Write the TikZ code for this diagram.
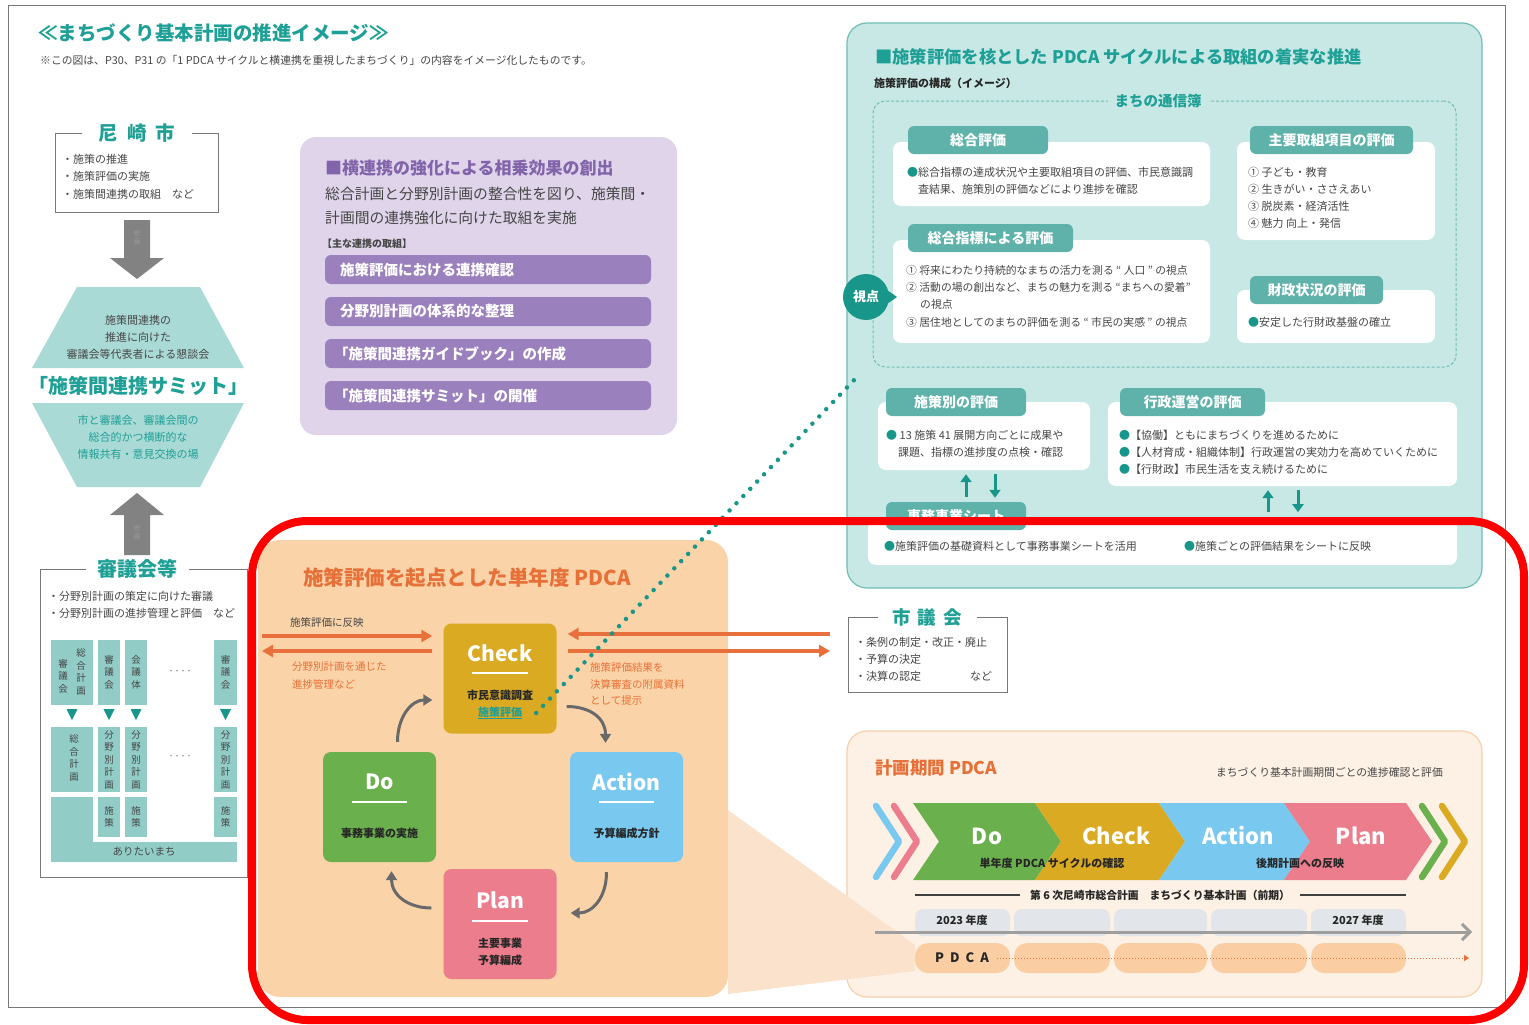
\documentclass[tikz,border=0pt]{standalone}
\usepackage{fontspec}
\setmainfont{Noto Sans CJK JP}
\usetikzlibrary{arrows.meta}
\definecolor{tealT}{RGB}{30,160,150}
\definecolor{tealTab}{RGB}{95,178,170}
\definecolor{tealBg}{RGB}{200,232,229}
\definecolor{tealLine}{RGB}{110,190,182}
\definecolor{tealDark}{RGB}{25,150,138}
\definecolor{hexC}{RGB}{170,218,214}
\definecolor{gridC}{RGB}{145,204,199}
\definecolor{txtG}{RGB}{70,70,70}
\definecolor{arrG}{RGB}{130,130,130}
\definecolor{purBg}{RGB}{224,212,234}
\definecolor{purBar}{RGB}{155,128,190}
\definecolor{purT}{RGB}{130,100,170}
\definecolor{orBg}{RGB}{251,211,168}
\definecolor{orT}{RGB}{230,112,55}
\definecolor{orL}{RGB}{232,112,60}
\definecolor{chkC}{RGB}{218,170,35}
\definecolor{doC}{RGB}{106,176,76}
\definecolor{actC}{RGB}{120,200,240}
\definecolor{plnC}{RGB}{235,125,140}
\definecolor{rbBg}{RGB}{253,240,228}
\definecolor{rbLine}{RGB}{246,208,172}
\definecolor{fanC}{RGB}{250,226,204}
\definecolor{yrC}{RGB}{226,229,233}
\definecolor{pillC}{RGB}{250,206,162}
\definecolor{cycG}{RGB}{105,105,105}
\definecolor{brkC}{RGB}{120,120,120}
\begin{document}
\begin{tikzpicture}[x=1pt,y=-1pt,
  f/.style={font=\fontsize{#1}{#1}\selectfont},
  fb/.style={font=\fontsize{#1}{#1}\selectfont\bfseries},
  lt/.style={anchor=west,inner sep=0,text=txtG},
  ct/.style={inner sep=0,text=txtG},
  vt/.style={align=center,inner sep=0,font=\fontsize{9.5}{12.5}\selectfont,text=txtG},
  brk/.style={draw=brkC,line width=1pt},
  tab/.style={fill=tealTab,rounded corners=6pt,text=white,inner sep=0,fb=14},
  wbox/.style={fill=white,rounded corners=8pt,inner sep=0},
  pd/.style={rounded corners=8pt,inner sep=0,minimum width=113pt,minimum height=110pt},
  orA/.style={draw=orL,line width=3.5pt,-{Triangle[length=11pt,width=12pt]}},
  cyc/.style={draw=cycG,line width=3pt,-{Triangle[length=9pt,width=11pt]}},
  tA/.style={draw=tealDark,line width=3pt,-{Triangle[length=8pt,width=11pt]}},
  chv/.style={line width=6.5pt,line cap=round,line join=round},
  bar/.style={fill=purBar,rounded corners=6pt,inner sep=0,minimum width=326pt,minimum height=29pt},
  bartxt/.style={anchor=west,inner sep=0,text=white,fb=14.5},
  yr/.style={fill=yrC,rounded corners=8pt},
  pill/.style={fill=pillC,rounded corners=13pt}
]
\useasboundingbox (0,0) rectangle (1529,1025);
\fill[white] (0,0) rectangle (1529,1025);
\draw[brkC,line width=1pt] (8,6) rectangle (1505,1007);

% ---------- title ----------
\node[lt,fb=19.5,text=tealT] (ttl) at (38,33) {≪まちづくり基本計画の推進イメージ≫};
\node[lt,f=10.8] (note) at (40,60) {※この図は、P30、P31 の「1 PDCA サイクルと横連携を重視したまちづくり」の内容をイメージ化したものです。};

% ---------- 尼崎市 ----------
\draw[brk] (82,133) -- (55,133) -- (55,212) -- (218,212) -- (218,133) -- (192,133);
\node[ct,fb=19.5,text=tealT] (ama) at (137,133) {尼\hspace{9pt}崎\hspace{9pt}市};
\node[lt,f=11] (ama1) at (62,159) {・施策の推進};
\node[lt,f=11] (ama2) at (62,176) {・施策評価の実施};
\node[lt,f=11] (ama3) at (62,194) {・施策間連携の取組　など};

\fill[arrG] (124,220) -- (150,220) -- (150,258) -- (164,258) -- (137,279) -- (110,258) -- (124,258) -- cycle;
\node[ct,align=center,font=\fontsize{7}{8.5}\selectfont,text=black!40] (sk1) at (137,238) {参\\画};

% ---------- summit hexagon ----------
\fill[hexC] (77,287) -- (200,287) -- (244,368) -- (32,368) -- cycle;
\fill[hexC] (32,403) -- (244,403) -- (200,487) -- (77,487) -- cycle;
\node[ct,f=11] (hx1) at (138,320) {施策間連携の};
\node[ct,f=11] (hx2) at (138,337) {推進に向けた};
\node[ct,f=11] (hx3) at (138,354) {審議会等代表者による懇談会};
\node[ct,fb=20,text=tealT] (summit) at (138,386) {「施策間連携サミット」};
\node[ct,f=11,text=tealT] (hx4) at (138,420) {市と審議会、審議会間の};
\node[ct,f=11,text=tealT] (hx5) at (138,437) {総合的かつ横断的な};
\node[ct,f=11,text=tealT] (hx6) at (138,454) {情報共有・意見交換の場};

\fill[arrG] (124,555) -- (150,555) -- (150,515) -- (164,515) -- (137,493) -- (110,515) -- (124,515) -- cycle;
\node[ct,align=center,font=\fontsize{7}{8.5}\selectfont,text=black!40] (sk2) at (137,533) {参\\画};

% ---------- 審議会等 ----------
\draw[brk] (86,569) -- (40,569) -- (40,877) -- (247,877) -- (247,569) -- (189,569);
\node[ct,fb=20,text=tealT] (shin) at (137,569) {審議会等};
\node[lt,f=11] (shin1) at (48,596) {・分野別計画の策定に向けた審議};
\node[lt,f=11] (shin2) at (48,613) {・分野別計画の進捗管理と評価　など};

\fill[gridC] (51,640) rectangle (93,705);
\fill[gridC] (98,640) rectangle (120,705);
\fill[gridC] (125,640) rectangle (147,705);
\fill[gridC] (214,640) rectangle (237,705);
\fill[gridC] (51,727) rectangle (93,792);
\fill[gridC] (98,727) rectangle (120,792);
\fill[gridC] (125,727) rectangle (147,792);
\fill[gridC] (214,727) rectangle (237,792);
\fill[gridC] (51,797) rectangle (93,862);
\fill[gridC] (98,797) rectangle (120,837);
\fill[gridC] (125,797) rectangle (147,837);
\fill[gridC] (214,797) rectangle (237,837);
\fill[gridC] (51,842) rectangle (237,862);
\foreach \cx in {72,109,136,225.5} {\fill[tealDark] (\cx-5.5,709) -- (\cx+5.5,709) -- (\cx,720) -- cycle;}
\node[vt] (g1a) at (81,672) {総\\合\\計\\画};
\node[vt] (g1b) at (63,676) {審\\議\\会};
\node[vt] (g2a) at (109,672) {審\\議\\会};
\node[vt] (g3a) at (136,672) {会\\議\\体};
\node[vt] (g4a) at (225.5,672) {審\\議\\会};
\node[ct,f=6] (dots1) at (180,672) {・・・・};
\node[vt] (g1c) at (74,758) {総\\合\\計\\画};
\node[vt] (g2c) at (109,759.5) {分\\野\\別\\計\\画};
\node[vt] (g3c) at (136,759.5) {分\\野\\別\\計\\画};
\node[vt] (g4c) at (225.5,759.5) {分\\野\\別\\計\\画};
\node[ct,f=6] (dots2) at (180,757) {・・・・};
\node[vt] (g2d) at (109,817) {施\\策};
\node[vt] (g3d) at (136,817) {施\\策};
\node[vt] (g4d) at (225.5,817) {施\\策};
\node[ct,f=10.5] (arit) at (144,852) {ありたいまち};

% ---------- purple box ----------
\node[fill=purBg,rounded corners=16pt,inner sep=0,minimum width=377pt,minimum height=298pt] (purp) at (488.5,286) {};
\node[lt,fb=17,text=purT] (purT1) at (325,168) {■横連携の強化による相乗効果の創出};
\node[lt,f=14.8] (purB1) at (325,194) {総合計画と分野別計画の整合性を図り、施策間・};
\node[lt,f=14.8] (purB2) at (325,218) {計画間の連携強化に向けた取組を実施};
\node[lt,fb=10] (purB3) at (322,244) {【主な連携の取組】};
\node[bar] (bar1) at (488,269.5) {};
\node[bar] (bar2) at (488,311.5) {};
\node[bar] (bar3) at (488,353.5) {};
\node[bar] (bar4) at (488,395.5) {};
\node[bartxt] (bt1) at (340,269.5) {施策評価における連携確認};
\node[bartxt] (bt2) at (340,311.5) {分野別計画の体系的な整理};
\node[bartxt] (bt3) at (334,353.5) {「施策間連携ガイドブック」の作成};
\node[bartxt] (bt4) at (334,395.5) {「施策間連携サミット」の開催};

% ---------- teal box ----------
\node[fill=tealBg,draw=tealLine,line width=1.2pt,rounded corners=20pt,inner sep=0,minimum width=635pt,minimum height=565pt] (tealbox) at (1164.5,305.5) {};
\node[lt,fb=17.3,text=tealT] (tt1) at (875,57) {■施策評価を核とした PDCA サイクルによる取組の着実な推進};
\node[lt,fb=11,text=black!85] (tt2) at (874,83) {施策評価の構成（イメージ）};
\node[draw=tealLine,line width=1pt,dash pattern=on 3pt off 2pt,rounded corners=12pt,inner sep=0,minimum width=583pt,minimum height=266pt] (dashbox) at (1164.5,234) {};
\node[fill=tealBg,inner xsep=7pt,inner ysep=2pt,fb=14.5,text=tealT] (tsushin) at (1158,101) {まちの通信簿};

\node[wbox,minimum width=317pt,minimum height=64pt] (boxA) at (1051.5,174) {};
\node[wbox,minimum width=198pt,minimum height=98pt] (boxB) at (1336,191) {};
\node[wbox,minimum width=317pt,minimum height=103pt] (boxC) at (1051.5,291.5) {};
\node[wbox,minimum width=198pt,minimum height=53pt] (boxD) at (1336,316.5) {};
\node[tab,minimum width=140pt,minimum height=28pt] (tabA) at (978,140) {総合評価};
\node[tab,minimum width=163pt,minimum height=28pt] (tabB) at (1331.5,140) {主要取組項目の評価};
\node[tab,minimum width=165pt,minimum height=28pt] (tabC) at (990.5,238) {総合指標による評価};
\node[tab,minimum width=133pt,minimum height=28pt] (tabD) at (1316.5,290) {財政状況の評価};

\node[lt,f=11] (a1) at (907,172) {\textcolor{tealDark}{●}総合指標の達成状況や主要取組項目の評価、市民意識調};
\node[lt,f=11] (a2) at (918,189) {査結果、施策別の評価などにより進捗を確認};
\node[lt,f=11] (b1) at (1248,172) {① 子ども・教育};
\node[lt,f=11] (b2) at (1248,189) {② 生きがい・ささえあい};
\node[lt,f=11] (b3) at (1248,206) {③ 脱炭素・経済活性};
\node[lt,f=11] (b4) at (1248,223) {④ 魅力 向上・発信};
\node[lt,f=10.8] (c1) at (906,270) {① 将来にわたり持続的なまちの活力を測る “ 人口 ” の視点};
\node[lt,f=10.8] (c2) at (906,287) {② 活動の場の創出など、まちの魅力を測る “まちへの愛着”};
\node[lt,f=10.8] (c3) at (920,304) {の視点};
\node[lt,f=10.8] (c4) at (906,322) {③ 居住地としてのまちの評価を測る “ 市民の実感 ” の視点};
\node[lt,f=11] (d1) at (1248,322) {\textcolor{tealDark}{●}安定した行財政基盤の確立};

\fill[tealDark] (884,288) -- (897,297) -- (884,306) -- cycle;
\node[circle,fill=tealDark,minimum size=46pt,inner sep=0,text=white,fb=13] (shiten) at (866,297) {視点};

\node[wbox,minimum width=212pt,minimum height=68pt] (boxE) at (984,436) {};
\node[wbox,minimum width=349pt,minimum height=84pt] (boxF) at (1282.5,444) {};
\node[wbox,minimum width=589pt,minimum height=45pt] (boxG) at (1162.5,542.5) {};
\node[tab,minimum width=140pt,minimum height=28pt] (tabE) at (956,402) {施策別の評価};
\node[tab,minimum width=145pt,minimum height=28pt] (tabF) at (1192.5,402) {行政運営の評価};
\node[tab,minimum width=140pt,minimum height=28pt] (tabG) at (956,516) {事務事業シート};
\node[lt,f=11] (e1) at (886,435) {\textcolor{tealDark}{●} 13 施策 41 展開方向ごとに成果や};
\node[lt,f=11] (e2) at (898,452) {課題、指標の進捗度の点検・確認};
\node[lt,f=11] (f1) at (1119,435) {\textcolor{tealDark}{●}【協働】ともにまちづくりを進めるために};
\node[lt,f=11] (f2) at (1119,452) {\textcolor{tealDark}{●}【人材育成・組織体制】行政運営の実効力を高めていくために};
\node[lt,f=11] (f3) at (1119,469) {\textcolor{tealDark}{●}【行財政】市民生活を支え続けるために};
\node[lt,f=11] (g1) at (884,546) {\textcolor{tealDark}{●}施策評価の基礎資料として事務事業シートを活用};
\node[lt,f=11] (g2) at (1184,546) {\textcolor{tealDark}{●}施策ごとの評価結果をシートに反映};

\draw[tA] ([xshift=10pt,yshift=5pt]tabG.north) -- ([xshift=-18pt,yshift=-4pt]boxE.south);
\draw[tA] ([xshift=11pt,yshift=-4pt]boxE.south) -- ([xshift=39pt,yshift=4pt]tabG.north);
\draw[tA] ([xshift=-14.5pt,yshift=-26pt]boxF.south) -- ([xshift=-14.5pt,yshift=-4pt]boxF.south);
\draw[tA] ([xshift=15.5pt,yshift=-4pt]boxF.south) -- ([xshift=15.5pt,yshift=-26pt]boxF.south);

% ---------- 市議会 ----------
\draw[brk] (878,617) -- (848,617) -- (848,692) -- (1007,692) -- (1007,617) -- (977,617);
\node[ct,fb=18.5,text=tealT] (gikai) at (927,617) {市\hspace{7pt}議\hspace{7pt}会};
\node[lt,f=11] (gk1) at (855,642) {・条例の制定・改正・廃止};
\node[lt,f=11] (gk2) at (855,659) {・予算の決定};
\node[lt,f=11] (gk3) at (855,676) {・決算の認定};
\node[lt,f=11] (gk4) at (970,676) {など};

% ---------- right-bottom box ----------
\node[fill=rbBg,draw=rbLine,line width=1.2pt,rounded corners=20pt,inner sep=0,minimum width=635pt,minimum height=266pt] (rbox) at (1164.5,864) {};

% ---------- center orange box ----------
\node[fill=orBg,rounded corners=22pt,inner sep=0,minimum width=470pt,minimum height=457pt] (obox) at (493,768.5) {};
\fill[fanC] (728,810) -- (915,945) -- (915,971) -- (728,994) -- cycle;

\node[lt,fb=20.5,text=orT] (otitle) at (303,578) {施策評価を起点とした単年度 PDCA};

\node[pd,fill=chkC] (check) at (500,678.5) {};
\node[pd,fill=doC] (do) at (379.5,807) {};
\node[pd,fill=actC] (action) at (626.5,807) {};
\node[pd,fill=plnC] (plan) at (500,924) {};

\node[ct,fb=21,text=white] (chkT) at (500,653) {Check};
\draw[white,line width=1.3pt] (472,673) -- (528,673);
\node[ct,fb=11,text=black!85] (chk1) at (500,695) {市民意識調査};
\node[ct,fb=11,text=tealT] (sesaku) at (500,713) {\underline{施策評価}};
\node[ct,fb=21,text=white] (doT) at (379.5,782) {Do};
\draw[white,line width=1.3pt] (352,802) -- (407,802);
\node[ct,fb=11,text=black!85] (do1) at (379.5,833) {事務事業の実施};
\node[ct,fb=21,text=white] (actT) at (626.5,782) {Action};
\draw[white,line width=1.3pt] (599,802) -- (654,802);
\node[ct,fb=11,text=black!85] (act1) at (626.5,833) {予算編成方針};
\node[ct,fb=21,text=white] (plnT) at (500,900) {Plan};
\draw[white,line width=1.3pt] (472,921) -- (528,921);
\node[ct,fb=11,text=black!85] (pln1) at (500,943) {主要事業};
\node[ct,fb=11,text=black!85] (pln2) at (500,960) {予算編成};

\draw[cyc] ([xshift=18pt,yshift=10pt]do.north) .. controls (397.5,716) and (412,700) .. ([xshift=-11pt,yshift=-21.5pt]check.west);
\draw[cyc] ([xshift=10pt,yshift=-28pt]check.east) .. controls (590,706.5) and (605.5,718) .. ([xshift=-21pt,yshift=9pt]action.north);
\draw[cyc] ([xshift=-20pt,yshift=-10pt]action.south) .. controls (606.5,898) and (592,913) .. ([xshift=14pt,yshift=11pt]plan.east);
\draw[cyc] ([xshift=-12pt,yshift=16pt]plan.west) .. controls (408,908) and (391.5,895) .. ([xshift=12pt,yshift=-9pt]do.south);

% orange arrows
\coordinate (oaL1) at (262,636);
\coordinate (oaL2) at (262,651);
\coordinate (oaR1) at (830,634);
\coordinate (oaR2) at (830,651);
\draw[orA] (oaL1) -- ([xshift=-11pt,yshift=42.5pt]check.west);
\draw[orA] ([xshift=-11pt,yshift=27.5pt]check.west) -- (oaL2);
\draw[orA] (oaR1) -- ([xshift=11pt,yshift=44.5pt]check.east);
\draw[orA] ([xshift=11pt,yshift=27.5pt]check.east) -- (oaR2);
\node[lt,f=10.5] (ol1) at (290,622) {施策評価に反映};
\node[lt,f=10.5,text=orT] (ol2) at (292,667) {分野別計画を通じた};
\node[lt,f=10.5,text=orT] (ol3) at (292,684) {進捗管理など};
\node[lt,f=10.5,text=orT] (or1) at (590,667) {施策評価結果を};
\node[lt,f=10.5,text=orT] (or2) at (590,684) {決算審査の附属資料};
\node[lt,f=10.5,text=orT] (or3) at (590,701) {として提示};

% dotted connector
\coordinate (dotend) at (856,378);
\draw[tealDark,line width=4.5pt,line cap=round,dash pattern=on 0pt off 10pt] ([xshift=14pt]sesaku.east) -- (dotend);

% ---------- 計画期間 PDCA ----------
\node[lt,fb=17.5,text=orT] (kt) at (875,768) {計画期間 PDCA};
\node[anchor=east,inner sep=0,text=txtG,f=10.8] (kt2) at (1443,772) {まちづくり基本計画期間ごとの進捗確認と評価};

\draw[chv,actC] (876,806) -- (899,841.5) -- (876,877);
\draw[chv,plnC] (894,806) -- (917,841.5) -- (894,877);
\fill[doC] (913,803) -- (1035,803) -- (1061,841.5) -- (1035,880) -- (913,880) -- (939,841.5) -- cycle;
\fill[chkC] (1035,803) -- (1159,803) -- (1185,841.5) -- (1159,880) -- (1035,880) -- (1061,841.5) -- cycle;
\fill[actC] (1159,803) -- (1284,803) -- (1310,841.5) -- (1284,880) -- (1159,880) -- (1185,841.5) -- cycle;
\fill[plnC] (1284,803) -- (1406,803) -- (1432,841.5) -- (1406,880) -- (1284,880) -- (1310,841.5) -- cycle;
\draw[chv,doC] (1422,806) -- (1445,841.5) -- (1422,877);
\draw[chv,chkC] (1442,806) -- (1465,841.5) -- (1442,877);
\node[ct,fb=22,text=white] (kDo) at (987,836) {Do};
\node[ct,fb=22,text=white] (kCh) at (1116,836) {Check};
\node[ct,fb=22,text=white] (kAc) at (1238,836) {Action};
\node[ct,fb=22,text=white] (kPl) at (1361,836) {Plan};
\node[ct,fb=11,text=black!85] (kS1) at (1052,863) {単年度 PDCA サイクルの確認};
\node[ct,fb=11,text=black!85] (kS2) at (1300,863) {後期計画への反映};

\draw[black!75,line width=2pt] (915,895) -- (1020,895);
\draw[black!75,line width=2pt] (1300,895) -- (1406,895);
\node[ct,fb=10.8,text=black!85] (kLine) at (1160,895) {第 6 次尼崎市総合計画　まちづくり基本計画（前期）};

\fill[yr] (915,909) rectangle (1010,936);
\fill[yr] (1014,909) rectangle (1110,936);
\fill[yr] (1114,909) rectangle (1207,936);
\fill[yr] (1211,909) rectangle (1307,936);
\fill[yr] (1311,909) rectangle (1406,936);
\node[ct,fb=11,text=black!85] (y1) at (962,920) {2023 年度};
\node[ct,fb=11,text=black!85] (y5) at (1358,920) {2027 年度};
\coordinate (tlS) at (875,932);
\coordinate (tlE) at (1472,932);
\draw[black!38,line width=3pt,-{Straight Barb[length=8pt,width=16pt,line width=3pt]}] (tlS) -- (tlE);

\fill[pill] (915,943) rectangle (1010,973);
\fill[pill] (1014,943) rectangle (1110,973);
\fill[pill] (1114,943) rectangle (1207,973);
\fill[pill] (1211,943) rectangle (1307,973);
\fill[pill] (1311,943) rectangle (1406,973);
\node[ct,fb=13,text=black!85] (pdca) at (962,958) {P\hspace{6pt}D\hspace{6pt}C\hspace{6pt}A};
\coordinate (pdE) at (1469,958);
\draw[orT,line width=0.9pt,dash pattern=on 1pt off 2pt,-{Triangle[length=5pt,width=6pt]}] ([xshift=8pt]pdca.east) -- (pdE);

% ---------- red highlight ----------
\draw[red,line width=8pt,rounded corners=55pt] (252,521) rectangle (1524,1020);
\end{tikzpicture}
\end{document}
